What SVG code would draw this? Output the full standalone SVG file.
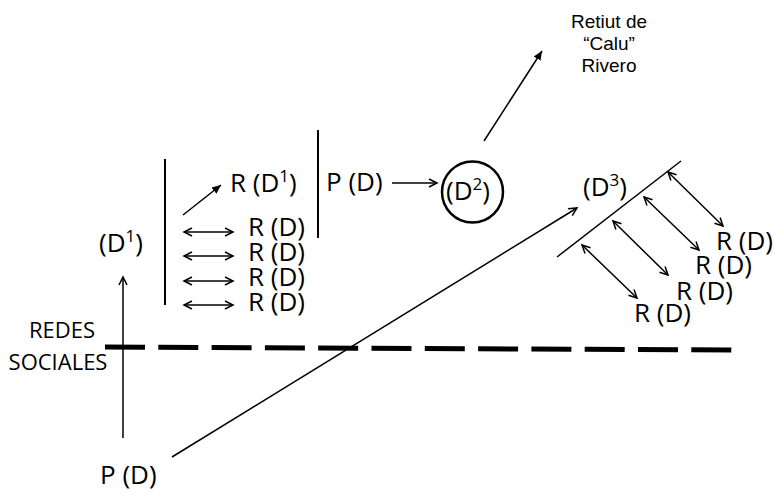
<svg xmlns="http://www.w3.org/2000/svg" width="775" height="494" viewBox="0 0 775 494">
<style>
.t{font-family:"Open Sans","Noto Sans",sans-serif;font-size:26px;fill:#000}
.a{font-family:"Liberation Sans",Arial,sans-serif;font-size:19px;fill:#000}
.sup{font-size:17px}
.ln{stroke:#000;stroke-width:1.5;fill:none}
.bar{stroke:#000;stroke-width:2;fill:none}
.oa{marker-end:url(#open)}
.da{marker-start:url(#open);marker-end:url(#open)}
.fa{marker-end:url(#fill)}
</style>
<defs>
<marker id="open" markerUnits="userSpaceOnUse" markerWidth="12" markerHeight="12" refX="9" refY="5" orient="auto-start-reverse" viewBox="0 0 12 10">
<path d="M1,1 L9,5 L1,9" fill="none" stroke="#000" stroke-width="1.5"/>
</marker>
<marker id="fill" markerUnits="userSpaceOnUse" markerWidth="10" markerHeight="10" refX="9" refY="4" orient="auto" viewBox="0 0 10 8">
<path d="M0,0 L9,4 L0,8 Z" fill="#000"/>
</marker>
</defs>
<rect width="775" height="494" fill="#fff"/>

<g id="connectors">
<line class="ln" x1="105" y1="347" x2="732" y2="350" style="stroke-width:5;stroke-dasharray:40 13.3"/>
<line class="ln oa" x1="123" y1="438" x2="123" y2="277"/>
<line class="ln oa" x1="172" y1="457" x2="577" y2="208"/>
<line class="bar" x1="165" y1="159" x2="165" y2="305"/>
<line class="bar" x1="318" y1="130" x2="318" y2="238"/>
<line class="ln fa" x1="183" y1="215" x2="221" y2="185"/>
<line class="ln da" x1="184" y1="232" x2="233" y2="232"/>
<line class="ln da" x1="184" y1="256" x2="233" y2="256"/>
<line class="ln da" x1="184" y1="281" x2="233" y2="281"/>
<line class="ln da" x1="184" y1="305" x2="233" y2="305"/>
<line class="ln oa" x1="392" y1="183" x2="437" y2="183"/>
<line class="ln fa" x1="484" y1="141" x2="542" y2="51"/>
<line class="ln" x1="557" y1="257" x2="681" y2="161"/>
<line class="ln da" x1="668" y1="172" x2="723" y2="226"/>
<line class="ln da" x1="644" y1="197" x2="699" y2="250"/>
<line class="ln da" x1="613" y1="221" x2="668" y2="275"/>
<line class="ln da" x1="582" y1="245" x2="637" y2="298"/>
</g>

<g id="redes-sociales">
<text class="t" x="62" y="338" text-anchor="middle" style="font-size:22px">REDES</text>
<text class="t" x="58" y="370" text-anchor="middle" style="font-size:22px">SOCIALES</text>
</g>
<g id="pd-bottom"><text class="t" x="100" y="484">P (D)</text></g>
<g id="d1-left"><text class="t" x="99" y="252">(D<tspan class="sup" dy="-10">1</tspan><tspan dy="10">)</tspan></text></g>
<g id="rd1"><text class="t" x="230" y="192">R (D<tspan class="sup" dy="-10">1</tspan><tspan dy="10">)</tspan></text></g>
<g id="rd-left">
<text class="t" x="248" y="236">R (D)</text>
<text class="t" x="248" y="261">R (D)</text>
<text class="t" x="248" y="286">R (D)</text>
<text class="t" x="248" y="311">R (D)</text>
</g>
<g id="pd-top"><text class="t" x="326" y="191">P (D)</text></g>
<g id="d2">
<circle cx="472.5" cy="192" r="30.5" fill="none" stroke="#000" stroke-width="2.5"/>
<text class="t" x="446" y="200">(D<tspan class="sup" dy="-10">2</tspan><tspan dy="10">)</tspan></text>
</g>
<g id="retiut">
<text class="a" x="609" y="28" text-anchor="middle">Retiut de</text>
<text class="a" x="609" y="50" text-anchor="middle">“Calu”</text>
<text class="a" x="609" y="72" text-anchor="middle">Rivero</text>
</g>
<g id="d3"><text class="t" x="583" y="196">(D<tspan class="sup" dy="-10">3</tspan><tspan dy="10">)</tspan></text></g>
<g id="rd-right">
<text class="t" x="716" y="250">R (D)</text>
<text class="t" x="695" y="274">R (D)</text>
<text class="t" x="676" y="300">R (D)</text>
<text class="t" x="634" y="322">R (D)</text>
</g>
</svg>
